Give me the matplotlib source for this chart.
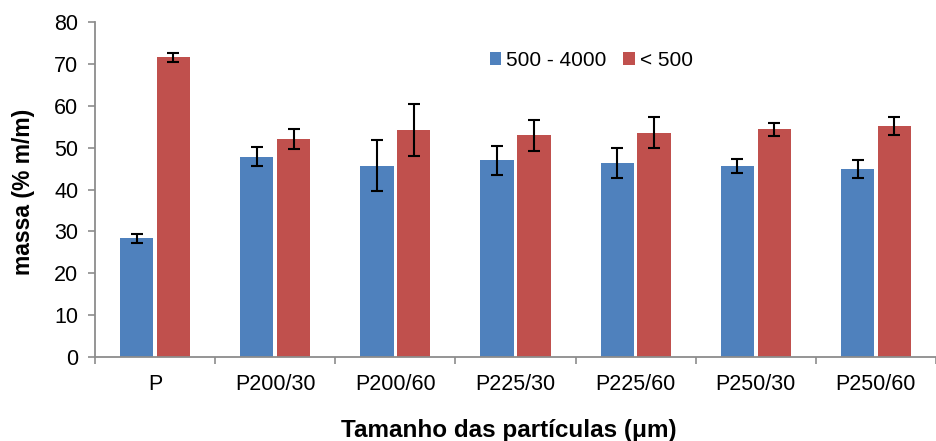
import numpy as np
import matplotlib
matplotlib.use("Agg")
import matplotlib.pyplot as plt

plt.rcParams["font.family"] = ["Liberation Sans", "DejaVu Sans"]

# particle size fractions per sample (mass %, mean and std dev)
samples = ["P", "P200/30", "P200/60", "P225/30", "P225/60", "P250/30", "P250/60"]
coarse = [28.3, 47.8, 45.7, 47.0, 46.3, 45.6, 44.9]
coarse_err = [1.1, 2.3, 6.1, 3.5, 3.6, 1.6, 2.1]
fine = [71.6, 52.1, 54.2, 52.9, 53.6, 54.4, 55.1]
fine_err = [1.1, 2.4, 6.1, 3.6, 3.6, 1.6, 2.1]
series_names = ["500 - 4000", "< 500"]

blue = "#4F81BD"
red = "#C0504D"
axis_grey = "#8C8C8C"

fig = plt.figure(figsize=(9.36, 4.41), dpi=100)
ax = fig.add_axes([95 / 936, 84 / 441, 841 / 936, 335 / 441])

x = np.arange(len(samples))
w = 0.277
off = 0.153
err_kw = dict(ecolor="black", elinewidth=1.5, capsize=4.3, capthick=1.5)
ax.bar(x - off, coarse, w, color=blue, yerr=coarse_err, error_kw=err_kw,
       label=series_names[0], zorder=2)
ax.bar(x + off, fine, w, color=red, yerr=fine_err, error_kw=err_kw,
       label=series_names[1], zorder=2)

ax.set_ylim(0, 80)
ax.set_yticks(range(0, 81, 10))
ax.set_xlim(-0.5, 6.41)

# labels at group centres, tick marks at group boundaries
ax.set_xticks(x)
ax.set_xticklabels(samples)
ax.set_xticks(np.arange(-0.5, len(samples), 1.0), minor=True)
ax.tick_params(axis="x", which="major", length=0, pad=12, labelsize=15.5)
ax.tick_params(axis="x", which="minor", length=5, width=1.2, color=axis_grey,
               direction="out")
ax.tick_params(axis="y", length=5, width=1.2, color=axis_grey, pad=7,
               labelsize=15.5)

for side in ["top", "right"]:
    ax.spines[side].set_visible(False)
for side in ["left", "bottom"]:
    ax.spines[side].set_color(axis_grey)
    ax.spines[side].set_linewidth(1.3)

ax.legend(loc="center", bbox_to_anchor=(0.59, 0.885), ncol=2, frameon=False,
          fontsize=15, handlelength=0.55, handleheight=0.55,
          handletextpad=0.25, columnspacing=0.8)

fig.text(509 / 936, 1 - 431 / 441, "Tamanho das partículas (μm)",
         ha="center", va="center", fontsize=17.5, fontweight="bold")
fig.text(24 / 936, 1 - 191.5 / 441, "massa (% m/m)", rotation=90,
         ha="center", va="center", fontsize=16.5, fontweight="bold")

fig.savefig("out.png", dpi=100)
